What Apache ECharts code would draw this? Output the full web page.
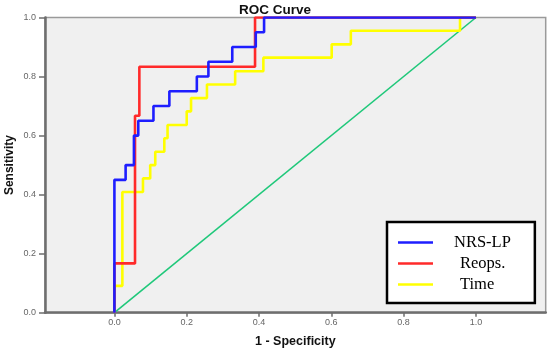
<!DOCTYPE html>
<html>
<head>
<meta charset="utf-8">
<script src="https://cdn.jsdelivr.net/npm/echarts@6/dist/echarts.min.js"></script>
<style>html,body{margin:0;padding:0;background:#fff;}#c{width:550px;height:350px;}</style>
</head>
<body>
<div id="c"></div>
<script>
// ROC points (1 - specificity, sensitivity)
const nrsFpr  = [0, 0, 0.031, 0.054, 0.066, 0.108, 0.152, 0.228, 0.26, 0.326, 0.391, 0.414, 1];
const nrsTpr  = [0, 0.45, 0.50, 0.60, 0.65, 0.70, 0.75, 0.80, 0.85, 0.90, 0.95, 1.0, 1.0];
const reopFpr = [0, 0, 0.057, 0.069, 0.389, 1];
const reopTpr = [0, 0.167, 0.667, 0.833, 1.0, 1.0];
const timeFpr = [0, 0, 0.022, 0.079, 0.099, 0.113, 0.138, 0.147, 0.2, 0.212, 0.256, 0.334, 0.412, 0.601, 0.654, 0.956, 1];
const timeTpr = [0, 0.091, 0.409, 0.455, 0.50, 0.545, 0.591, 0.636, 0.682, 0.727, 0.773, 0.818, 0.864, 0.909, 0.955, 1.0, 1.0];
const refFpr  = [0, 1];
const refTpr  = [0, 1];
const tickVals = [0, 0.2, 0.4, 0.6, 0.8, 1.0];
const seriesNames = ['NRS-LP', 'Reops.', 'Time'];

const zip = (a, b) => a.map((v, i) => [v, b[i]]);
const chart = echarts.init(document.getElementById('c'), null, {renderer: 'canvas'});
const axisCol = '#6e6e6e';
chart.setOption({
  animation: false,
  backgroundColor: '#ffffff',
  title: {
    text: 'ROC Curve', left: 270, top: -2, textAlign: 'center',
    textStyle: {fontFamily: 'Liberation Sans', fontWeight: 'bold', fontSize: 13.5, color: '#111'}
  },
  grid: {
    left: 45, right: 4.3, top: 17.5, bottom: 37.3,
    outerBoundsMode: 'none', containLabel: false,
    show: true, backgroundColor: '#f0f0f0', borderColor: '#9a9a9a', borderWidth: 1.5
  },
  legend: {
    orient: 'vertical', left: 387, top: 222,
    backgroundColor: '#ffffff', borderColor: '#000', borderWidth: 2.5,
    padding: [12, 24, 10, 11],
    icon: 'rect', itemWidth: 35, itemHeight: 2.5, itemGap: 4,
    data: [
      {name: seriesNames[0], textStyle: {padding: [0, 0, 0, 16]}},
      {name: seriesNames[1], textStyle: {padding: [0, 0, 0, 22]}},
      {name: seriesNames[2], textStyle: {padding: [0, 0, 0, 22]}}
    ],
    textStyle: {fontFamily: 'Liberation Serif', fontSize: 16.5, color: '#000', lineHeight: 14}
  },
  xAxis: {
    type: 'value', min: -0.192, max: 1.193,
    name: '1 - Specificity', nameLocation: 'middle', nameGap: 22,
    nameTextStyle: {fontFamily: 'Liberation Sans', fontWeight: 'bold', fontSize: 12.5, color: '#111'},
    axisLine: {show: true, onZero: false, lineStyle: {color: axisCol, width: 2.5}},
    axisTick: {show: true, customValues: tickVals, length: 4, lineStyle: {color: axisCol, width: 1.5}},
    axisLabel: {customValues: tickVals, formatter: v => v.toFixed(1), fontFamily: 'Liberation Sans', fontSize: 9, color: '#666', margin: 5},
    splitLine: {show: false}
  },
  yAxis: {
    type: 'value', min: 0, max: 1,
    name: 'Sensitivity', nameLocation: 'middle', nameGap: 29, nameRotate: 90, nameMoveOverlap: false,
    nameTextStyle: {fontFamily: 'Liberation Sans', fontWeight: 'bold', fontSize: 12, color: '#111'},
    axisLine: {show: true, onZero: false, lineStyle: {color: axisCol, width: 2.5}},
    axisTick: {show: true, customValues: tickVals, length: 6, lineStyle: {color: axisCol, width: 1.5}},
    axisLabel: {customValues: tickVals, formatter: v => v.toFixed(1), fontFamily: 'Liberation Sans', fontSize: 9, color: '#666', margin: 9},
    splitLine: {show: false}
  },
  series: [
    {type: 'line', name: 'ref', data: zip(refFpr, refTpr), symbol: 'none', silent: true,
     lineStyle: {color: '#1fc87a', width: 1.6}, z: 2},
    {type: 'line', name: seriesNames[2], data: zip(timeFpr, timeTpr), step: 'end', symbol: 'none',
     lineStyle: {color: '#ffff00', width: 2.6}, itemStyle: {color: '#ffff00'}, z: 3},
    {type: 'line', name: seriesNames[1], data: zip(reopFpr, reopTpr), step: 'end', symbol: 'none',
     lineStyle: {color: '#ff2a2a', width: 2.6}, itemStyle: {color: '#ff2a2a'}, z: 4},
    {type: 'line', name: seriesNames[0], data: zip(nrsFpr, nrsTpr), step: 'end', symbol: 'none',
     lineStyle: {color: '#1e1eff', width: 2.6}, itemStyle: {color: '#1e1eff'}, z: 5}
  ]
});
</script>
</body>
</html>
